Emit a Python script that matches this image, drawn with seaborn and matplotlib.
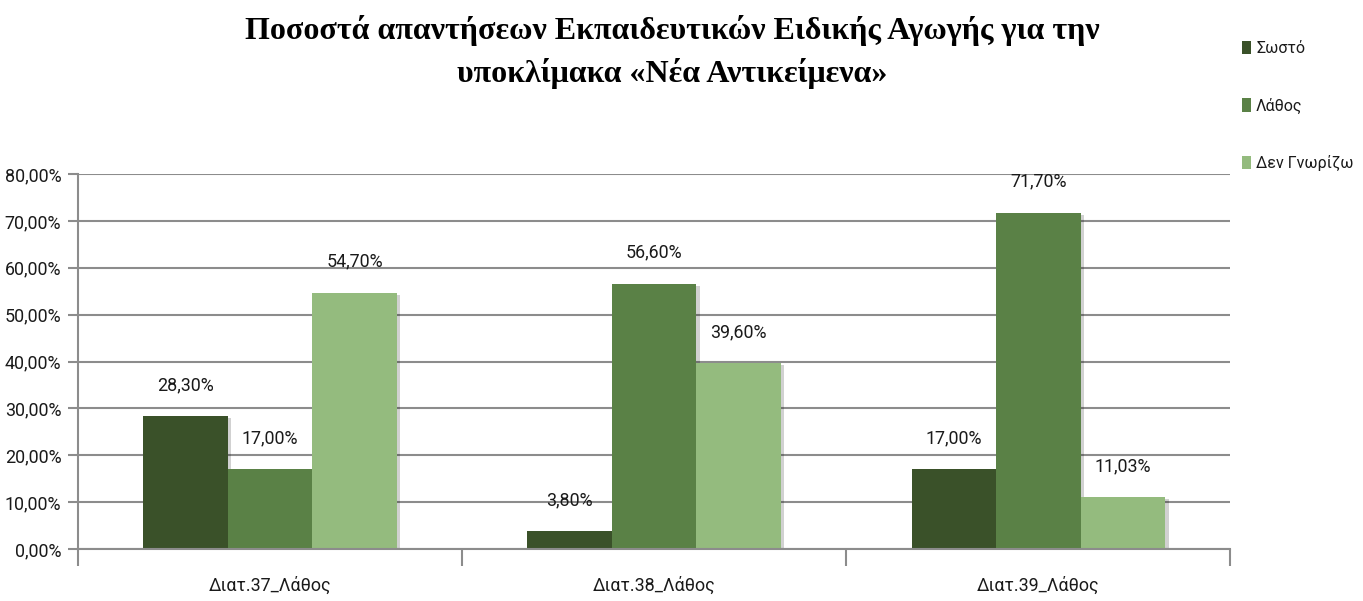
import matplotlib
matplotlib.use("Agg")
import matplotlib.pyplot as plt
import matplotlib.patheffects as pe
from matplotlib.ticker import FuncFormatter, FixedLocator
from matplotlib.textpath import TextPath
from matplotlib.font_manager import FontProperties
from matplotlib import ft2font
import seaborn as sns
import pandas as pd
from matplotlib import font_manager

categories = ["Διατ.37_Λάθος", "Διατ.38_Λάθος", "Διατ.39_Λάθος"]
series_names = ["Σωστό", "Λάθος", "Δεν Γνωρίζω"]
correct = [28.30, 3.80, 17.00]
wrong = [17.00, 56.60, 71.70]
dont_know = [54.70, 39.60, 11.03]
y_ticks = [0, 10, 20, 30, 40, 50, 60, 70, 80]

colors = ["#3a5129", "#5a8146", "#94bb7e"]

rows = []
for name, vals in zip(series_names, [correct, wrong, dont_know]):
    for c, v in zip(categories, vals):
        rows.append({"cat": c, "series": name, "value": v})
df = pd.DataFrame(rows)

sns.set_theme(style="white")

# pick the narrowest regular-weight sans face that has Greek glyphs
def wnum(w):
    if isinstance(w, int):
        return w
    return {"normal": 400, "regular": 400, "book": 400, "medium": 500}.get(str(w).lower(), 0)

families = ["Noto Sans", "DejaVu Sans", "Roboto", "Open Sans", "Liberation Sans",
            "Liberation Sans Narrow", "Lato", "Inter"]
best = None
for f in font_manager.fontManager.ttflist:
    if f.name not in families or f.style != "normal" or wnum(f.weight) not in (400, 500):
        continue
    try:
        cmap = ft2font.FT2Font(f.fname).get_charmap()
        if ord("Λ") not in cmap or ord("ώ") not in cmap:
            continue
        tp = TextPath((0, 0), "80,00%", size=10, prop=FontProperties(fname=f.fname))
        w = tp.get_extents().width / 10.0
    except Exception:
        continue
    if best is None or w < best[0]:
        best = (w, f)

if best:
    w_per_pt, chosen = best
    plt.rcParams["font.family"] = [chosen.name, "DejaVu Sans"]
    plt.rcParams["font.stretch"] = str(chosen.stretch)
    plt.rcParams["font.weight"] = "normal"
    fs = 55.0 / (w_per_pt * 100 / 72.0)
    fs = max(11.5, min(15.0, fs))
else:
    plt.rcParams["font.family"] = ["Liberation Sans", "DejaVu Sans"]
    fs = 12.5

fig = plt.figure(figsize=(13.63, 6.01), dpi=100)
ax = fig.add_axes([0.0572, 0.0865, 0.8455, 0.624])

sns.barplot(data=df, x="cat", y="value", hue="series", hue_order=series_names,
            order=categories, palette=colors, width=0.66, gap=0, ax=ax,
            saturation=1, edgecolor="none", linewidth=0, legend=True)

shadow = [pe.SimplePatchShadow(offset=(2.5, -1.5), shadow_rgbFace="#000000", alpha=0.18), pe.Normal()]
for p in ax.patches:
    p.set_path_effects(shadow)

def fmt(v):
    return f"{v:.2f}%".replace(".", ",")

for cont in ax.containers:
    ax.bar_label(cont, labels=[fmt(v) for v in cont.datavalues], padding=16,
                 fontsize=fs, color="#1a1a1a")

ax.set_xlim(-0.5, 2.5)
ax.set_ylim(0, 80)
ax.yaxis.set_major_locator(FixedLocator(y_ticks))
ax.yaxis.set_major_formatter(FuncFormatter(lambda v, p: fmt(v)))
ax.grid(axis="y", color="#8c8c8c", linewidth=1.5)
ax.set_axisbelow(True)
for s in ["top", "right"]:
    ax.spines[s].set_visible(False)
for s in ["left", "bottom"]:
    ax.spines[s].set_color("#8c8c8c")
    ax.spines[s].set_linewidth(1.5)
ax.tick_params(axis="y", which="major", left=True, length=7, width=1.5, color="#8c8c8c",
               labelsize=fs, labelcolor="#1a1a1a", pad=5)
ax.tick_params(axis="x", which="major", bottom=False, labelsize=fs, labelcolor="#1a1a1a", pad=14)
ax.set_xticks([-0.5, 0.5, 1.5, 2.5], minor=True)
ax.tick_params(axis="x", which="minor", bottom=True, length=12, width=1.5, color="#8c8c8c")
ax.set_xlabel("")
ax.set_ylabel("")

lfs = min(fs, 11.5)
leg = ax.legend(loc="upper left", bbox_to_anchor=(0.911, 0.932), bbox_transform=fig.transFigure,
                frameon=False, fontsize=lfs, handlelength=0.6, handleheight=0.9,
                handletextpad=0.3, labelspacing=2.6, borderaxespad=0, borderpad=0)
for h in leg.legend_handles:
    h.set_path_effects([])
for t in leg.get_texts():
    t.set_color("#1a1a1a")

fig.text(0.493, 0.975, "Ποσοστά απαντήσεων Εκπαιδευτικών Ειδικής Αγωγής για την\nυποκλίμακα «Νέα Αντικείμενα»",
         ha="center", va="top", fontsize=23, fontweight="bold", color="black",
         family=["Liberation Serif", "DejaVu Serif"], linespacing=1.5)

fig.savefig("out.png", dpi=100)
